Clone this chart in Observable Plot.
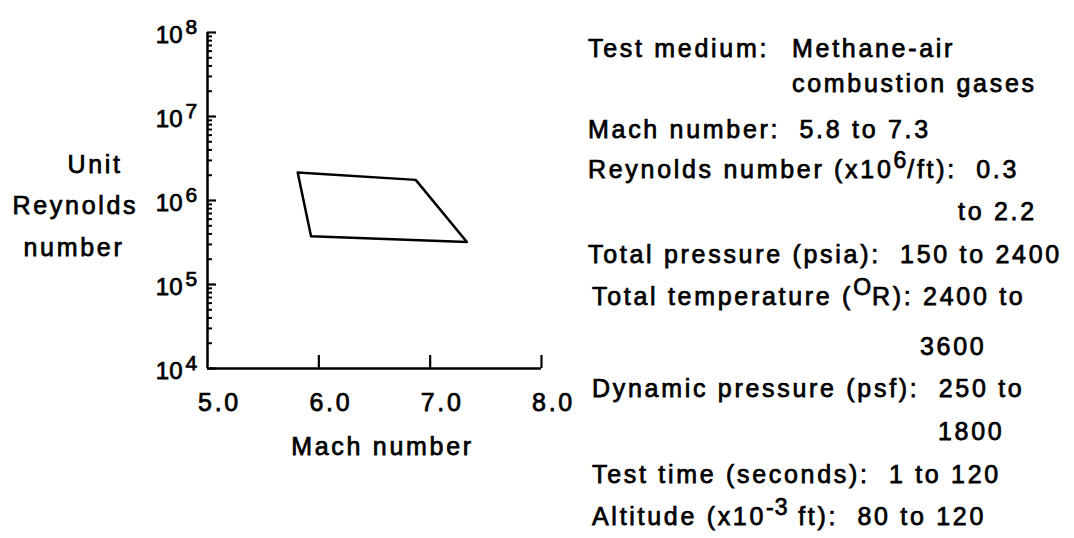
<!DOCTYPE html>
<html>
<head>
<meta charset="utf-8">
<script src="https://cdn.jsdelivr.net/npm/d3@7"></script>
<script src="https://cdn.jsdelivr.net/npm/@observablehq/plot@0.6"></script>
<style>
  html, body { margin: 0; padding: 0; background: #fff; }
  #wrap { position: relative; width: 1074px; height: 538px; overflow: hidden; background: #fff;
          font-family: "Liberation Sans", Arial, Helvetica, sans-serif; color: #000; }
  #chart { position: absolute; left: 0; top: 0; }
  #chart svg text { stroke: #000; stroke-width: 0.75px; }
  #chart svg .ylab10 text { letter-spacing: 0px; }
  .spec { position: absolute; white-space: pre; font-size: 25px; line-height: 25px; letter-spacing: 2.7px;
          -webkit-text-stroke: 0.75px #000; }
  .spec sup { font-size: 0.92em; vertical-align: 0.45em; line-height: 0; letter-spacing: 1px; }
</style>
</head>
<body>
<div id="wrap"><div id="chart"></div></div>
<script>
// ---- data ----
const machVals = [5.81, 6.87, 7.33, 5.93];          // polygon vertices, Mach number
const reVals   = [2.15e6, 1.76e6, 3.2e5, 3.75e5];    // polygon vertices, unit Reynolds number
const xTicks = [5.0, 6.0, 7.0, 8.0];
const yMajor = [1e4, 1e5, 1e6, 1e7, 1e8];
const xTitle = "Mach number";
const yTitle = ["Unit", "Reynolds", "number"];
const specLines = [
  "Test medium:", "Methane-air", "combustion gases",
  "Mach number:  5.8 to 7.3",
  "Reynolds number (x10<sup>6</sup>/ft):  0.3", "to 2.2",
  "Total pressure (psia):  150 to 2400",
  "Total temperature (<sup>O</sup>R): 2400 to", "3600",
  "Dynamic pressure (psf):  250 to", "1800",
  "Test time (seconds):  1 to 120",
  "Altitude (x10<sup>-3</sup> ft):  80 to 120"
];

// ---- derived ----
const poly = machVals.map((m, i) => ({mach: m, re: reVals[i]}));
const yMinor = [];
for (let e = 4; e < 8; e++) for (let k = 2; k <= 9; k++) yMinor.push(k * 10 ** e);
const xUp = xTicks.slice(1);

// ---- layout (pixels) ----
const yTitleLayout = [[-140, -28], [-195, 13], [-184, 55]];
const specLayout = [[588,57],[792,57],[792,92],[588,138],[588,178],[958,220],[588,263],
                    [592,305],[920,355],[592,397],[938,440],[592,483],[592,525]];

const chart = Plot.plot({
  width: 580,
  height: 538,
  marginLeft: 207,
  marginRight: 39,
  marginTop: 32,
  marginBottom: 170,
  style: {fontFamily: '"Liberation Sans", Arial, Helvetica, sans-serif', fontSize: "25px",
          letterSpacing: "2.7px", color: "#000", background: "#fff", overflow: "visible"},
  x: {domain: [5, 8], axis: null},
  y: {type: "log", domain: [1e4, 1e8], axis: null},
  marks: [
    Plot.ruleY([1e4], {stroke: "#000", strokeWidth: 2.5}),
    Plot.ruleX([5], {stroke: "#000", strokeWidth: 2.5}),
    Plot.axisX(xUp, {tickSize: -13, fill: "none", label: null, strokeWidth: 2.2, stroke: "#000"}),
    Plot.axisY(yMinor, {tickSize: -5, fill: "none", label: null, strokeWidth: 2, stroke: "#000"}),
    Plot.axisY(yMajor, {tickSize: -9, fill: "none", label: null, strokeWidth: 2.2, stroke: "#000"}),
    Plot.text(xTicks, {x: d => d, frameAnchor: "bottom", text: d => d.toFixed(1),
      lineAnchor: "top", dy: 25, dx: 12, fontSize: 25}),
    Plot.text(yMajor, {y: d => d, frameAnchor: "left", text: () => "10", textAnchor: "end",
      lineAnchor: "bottom", dx: -25, dy: 10, fontSize: 24, className: "ylab10"}),
    Plot.text(yMajor, {y: d => d, frameAnchor: "left", text: d => String(Math.round(Math.log10(d))),
      textAnchor: "start", lineAnchor: "bottom", dx: -22, dy: 1, fontSize: 21}),
    Plot.text([xTitle], {frameAnchor: "bottom", text: d => d, lineAnchor: "top", dy: 69, dx: 8, fontSize: 25}),
    ...yTitle.map((t, i) => Plot.text([t], {frameAnchor: "left", text: d => d, textAnchor: "start",
      lineAnchor: "bottom", dx: yTitleLayout[i][0], dy: yTitleLayout[i][1], fontSize: 25})),
    Plot.line(poly, {x: "mach", y: "re", curve: "linear-closed", stroke: "#000", strokeWidth: 2.5})
  ]
});
document.getElementById("chart").appendChild(chart);

const wrap = document.getElementById("wrap");
specLines.forEach((s, i) => {
  const d = document.createElement("div");
  d.className = "spec";
  d.innerHTML = s;
  d.style.left = specLayout[i][0] + "px";
  d.style.top = (specLayout[i][1] - 21) + "px";
  wrap.appendChild(d);
});
</script>
</body>
</html>
